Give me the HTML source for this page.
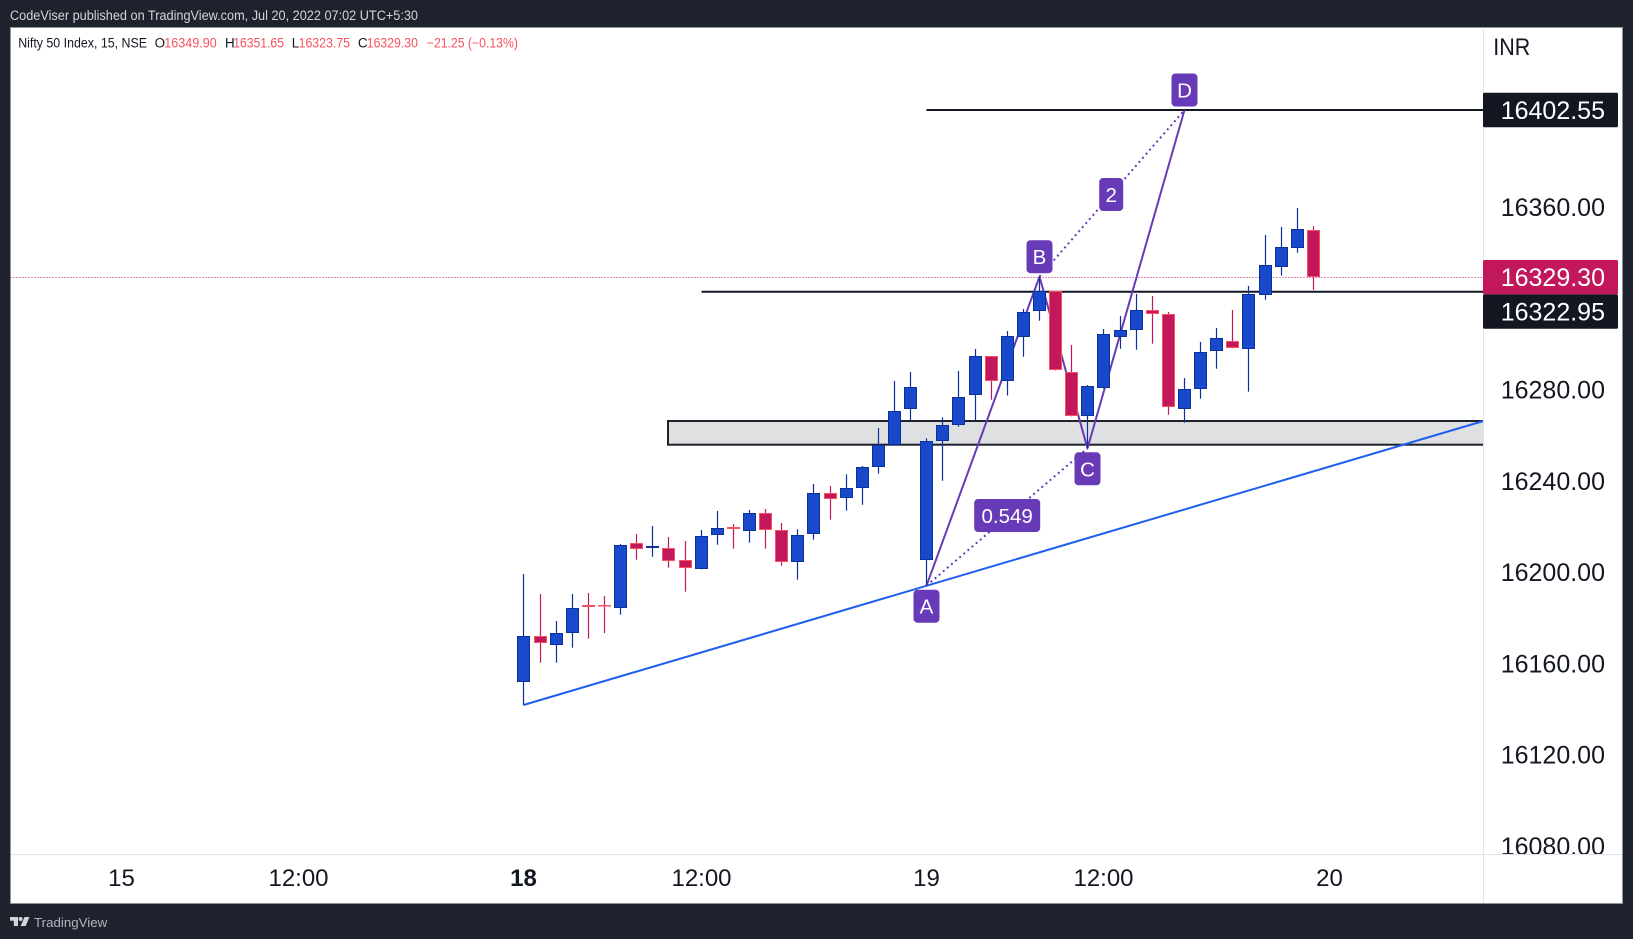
<!DOCTYPE html>
<html lang="en">
<head>
<meta charset="utf-8">
<title>Nifty 50 Index 15m chart</title>
<style>
html,body{margin:0;padding:0;background:#1e222d;width:1633px;height:939px;overflow:hidden}
svg{display:block}
text{font-family:"Liberation Sans",sans-serif}
</style>
</head>
<body>
<svg id="chart" xmlns="http://www.w3.org/2000/svg" width="1633" height="939" viewBox="0 0 1633 939">
  <rect x="0" y="0" width="1633" height="939" fill="#1e222d"/>
  <rect x="10.5" y="27.5" width="1612" height="876" fill="#ffffff" stroke="#8f9299" stroke-width="1"/>
  <text x="10" y="20" font-size="13.4" fill="#d1d4dc" textLength="408" lengthAdjust="spacingAndGlyphs">CodeViser published on TradingView.com, Jul 20, 2022 07:02 UTC+5:30</text>
  <g id="plot"></g>
  <g font-size="13.4">
    <text x="18.2" y="47.5" fill="#131722" textLength="128.8" lengthAdjust="spacingAndGlyphs">Nifty 50 Index, 15, NSE</text>
    <text x="154.6" y="47.5" fill="#131722">O</text>
    <text x="164.3" y="47.5" fill="#f7525f" textLength="52.5" lengthAdjust="spacingAndGlyphs">16349.90</text>
    <text x="225" y="47.5" fill="#131722">H</text>
    <text x="233.2" y="47.5" fill="#f7525f" textLength="50.8" lengthAdjust="spacingAndGlyphs">16351.65</text>
    <text x="291.8" y="47.5" fill="#131722">L</text>
    <text x="298.6" y="47.5" fill="#f7525f" textLength="51.4" lengthAdjust="spacingAndGlyphs">16323.75</text>
    <text x="357.9" y="47.5" fill="#131722">C</text>
    <text x="366.8" y="47.5" fill="#f7525f" textLength="51.1" lengthAdjust="spacingAndGlyphs">16329.30</text>
    <text x="426.8" y="47.5" fill="#f7525f" textLength="91.1" lengthAdjust="spacingAndGlyphs">−21.25 (−0.13%)</text>
  </g>
  <g>
    <polygon points="10,917 18,917 18,926 13.8,926 13.8,920.8 10,920.8" fill="#d1d4dc"/>
    <circle cx="20.6" cy="919" r="2" fill="#d1d4dc"/>
    <polygon points="24.5,917 29.5,917 25.6,926 20.6,926" fill="#d1d4dc"/>
    <text x="34" y="927" font-size="13" fill="#b2b5be" textLength="73.3" lengthAdjust="spacingAndGlyphs">TradingView</text>
  </g>
</svg>
<script>
const barIndex = [0,1,2,3,4,5,6,7,8,9,10,11,12,13,14,15,16,17,18,19,20,21,22,23,24,25,26,27,28,29,30,31,32,33,34,35,36,37,38,39,40,41,42,43,44,45,46,47,48,49];
const opens = [16151.83,16171.98,16168.03,16173.29,16185.69,16185.69,16184.24,16212.72,16210.53,16210.79,16205.27,16201.33,16216.23,16219.73,16217.98,16226.13,16218.68,16204.40,16216.66,16234.63,16232.44,16236.82,16246.02,16255.66,16271.43,16205.27,16257.41,16264.42,16277.56,16294.65,16283.61,16303.32,16314.71,16323.12,16287.64,16268.36,16280.63,16303.23,16306.04,16314.80,16313.05,16271.43,16280.19,16296.84,16301.22,16297.71,16321.37,16333.64,16341.96,16349.90];
const highs = [16199.27,16190.51,16178.68,16190.51,16190.95,16189.63,16212.41,16216.80,16220.30,16215.48,16213.73,16218.55,16226.87,16221.18,16227.31,16227.75,16221.61,16218.85,16238.70,16237.82,16242.95,16246.59,16263.23,16283.82,16287.77,16258.72,16267.92,16288.21,16297.84,16294.78,16305.73,16315.37,16329.52,16323.20,16299.60,16282.07,16306.61,16312.30,16321.94,16321.06,16314.05,16285.14,16300.91,16307.04,16314.93,16325.44,16347.79,16351.29,16359.62,16351.65];
const lows = [16141.88,16160.41,16160.41,16166.98,16170.93,16173.42,16181.44,16205.54,16206.85,16202.03,16191.52,16201.33,16212.11,16210.36,16212.98,16210.36,16202.91,16196.77,16214.30,16223.06,16227.00,16229.63,16243.21,16255.66,16266.61,16194.15,16240.15,16263.80,16266.74,16275.63,16277.47,16294.47,16310.24,16288.51,16268.36,16254.34,16280.63,16297.97,16297.54,16300.17,16269.06,16265.56,16276.07,16289.21,16298.15,16279.14,16319.44,16329.96,16340.03,16323.75];
const closes = [16171.98,16168.91,16173.29,16184.24,16184.95,16185.38,16211.84,16210.09,16211.41,16204.84,16201.77,16215.79,16219.29,16219.12,16225.86,16218.42,16204.40,16216.23,16234.63,16232.00,16236.82,16246.02,16255.66,16270.55,16281.06,16257.41,16264.42,16276.68,16294.65,16283.69,16303.41,16313.92,16323.17,16288.51,16268.36,16281.50,16304.28,16306.04,16314.80,16313.05,16272.30,16280.19,16296.40,16302.53,16298.15,16321.81,16334.51,16342.40,16350.28,16329.30];

const priceTicks = [16360,16280,16240,16200,16160,16120,16080];
const priceTagValues = [16402.55,16329.30,16322.95];
const timeTickBars = [-25,-14,0,11,25,36,50];
const timeTickLabels = ["15","12:00","18","12:00","19","12:00","20"];

const lastPrice = [16329.30];
const horizontalLevels = [16402.55,16322.95];
const horizontalLevelStartBars = [25,11];
const zonePrices = [16266.30,16255.92];
const zoneStartBar = [9];
const trendBars = [0,59.53];
const trendPrices = [16141.88,16266.30];
const patternBars = [25,32,35,41];
const patternPrices = [16194.15,16329.52,16254.34,16402.55];
const patternNames = ["A","B","C","D"];
const ratioValues = ["0.549","2"];

const BAR_BASE_X = 523, BAR_STEP = 145 / 9;
const PRICE_REF = 16402.55, PRICE_REF_Y = 110, PX_PER_POINT = 2.2826;
const PLOT_LEFT = 10.5, PLOT_RIGHT = 1483.5, AXIS_Y = 854.5;

function xAt(bar){ return Math.ceil(BAR_BASE_X + bar * BAR_STEP - 1e-6) + 0.5; }
function yAt(price){ return PRICE_REF_Y + (PRICE_REF - price) * PX_PER_POINT; }

const NS = "http://www.w3.org/2000/svg";
const plot = document.getElementById("plot");
function make(tag, attrs, parent){
  const el = document.createElementNS(NS, tag);
  for (const k in attrs) el.setAttribute(k, attrs[k]);
  (parent || plot).appendChild(el);
  return el;
}

/* support zone */
const zoneLeft = xAt(zoneStartBar[0]) - 0.5;
const zoneRect = make("rect", {x: zoneLeft, y: yAt(zonePrices[0]), width: PLOT_RIGHT - zoneLeft + 4, height: yAt(zonePrices[1]) - yAt(zonePrices[0]), fill: "#dfe0e2", stroke: "#1e222d", "stroke-width": 2});



/* trendline */
const trendLine = make("line", {x1: xAt(trendBars[0]), y1: yAt(trendPrices[0]), x2: xAt(trendBars[1]), y2: yAt(trendPrices[1]), stroke: "#1e5ef0", "stroke-width": 2});



/* horizontal levels */
horizontalLevels.forEach(function(level, i){
  const hl = make("line", {x1: xAt(horizontalLevelStartBars[i]), y1: yAt(level), x2: PLOT_RIGHT, y2: yAt(level), stroke: "#131722", "stroke-width": 2});
  
  
});

/* last price line */
const lastY = Math.floor(yAt(lastPrice[0])) + 0.5;
const lastLine = make("line", {x1: PLOT_LEFT, y1: lastY, x2: PLOT_RIGHT - 2, y2: lastY, stroke: "#c2185b", "stroke-width": 1, "stroke-dasharray": "1 2"});



/* ABCD pattern legs */
for (let i = 0; i < patternBars.length - 1; i++) {
  const leg = make("line", {x1: xAt(patternBars[i]), y1: yAt(patternPrices[i]), x2: xAt(patternBars[i+1]), y2: yAt(patternPrices[i+1]), stroke: "#673ab7", "stroke-width": 2});
  
  
}
for (let i = 0; i < 2; i++) {
  const dot = make("line", {x1: xAt(patternBars[i]), y1: yAt(patternPrices[i]), x2: xAt(patternBars[i+2]), y2: yAt(patternPrices[i+2]), stroke: "#673ab7", "stroke-width": 2, "stroke-dasharray": "2 3.4"});
  
  
}

/* candles */
barIndex.forEach(function(bar, i){
  const up = closes[i] >= opens[i];
  const wickColor = up ? "#0c3299" : "#c2185b";
  const bodyFill = up ? "#1848cc" : "#c2185b";
  const bodyStroke = up ? "#0c3299" : "#f7525f";
  const cx = xAt(bar);
  const topY = Math.round(yAt(Math.max(opens[i], closes[i])));
  const botY = Math.round(yAt(Math.min(opens[i], closes[i])));
  const g = make("g", {});
  
  
  const wick = make("rect", {x: cx - 0.6, y: yAt(highs[i]), width: 1.2, height: Math.max(0, yAt(lows[i]) - yAt(highs[i])), fill: wickColor}, g);
  
  
  const body = make("rect", {x: cx - 6, y: topY + 0.5, width: 12, height: Math.max(0.5, botY - topY - 1), fill: bodyFill, stroke: bodyStroke, "stroke-width": 1}, g);
  
  
});

/* pattern labels */
function badge(label, cx, top, w){
  const g = make("g", {});
  
  
  const r = make("rect", {x: cx - w / 2, y: top, width: w, height: 33, rx: 4, fill: "#673ab7"}, g);
  
  
  const t = make("text", {x: cx, y: top + 24, "font-size": 20.5, fill: "#ffffff", "text-anchor": "middle"}, g);
  t.textContent = label;
  
  
}
const belowPoint = [true, false, true, false];
patternNames.forEach(function(name, i){
  const px = xAt(patternBars[i]);
  const py = yAt(patternPrices[i]);
  badge(name, px, belowPoint[i] ? py + 4 : py - 36.5, 26);
});
badge(ratioValues[0], (xAt(patternBars[0]) + xAt(patternBars[2])) / 2 + 0.2, (yAt(patternPrices[0]) + yAt(patternPrices[2])) / 2 - 18, 66);
badge(ratioValues[1], (xAt(patternBars[1]) + xAt(patternBars[3])) / 2 - 0.8, (yAt(patternPrices[1]) + yAt(patternPrices[3])) / 2 - 15.3, 24);

/* price axis pane */
const pricePane = make("rect", {x: PLOT_RIGHT, y: 28, width: 1622 - PLOT_RIGHT, height: 875, fill: "#ffffff"});


const priceLine = make("line", {x1: PLOT_RIGHT, y1: 27.5, x2: PLOT_RIGHT, y2: 903, stroke: "#e0e3eb", "stroke-width": 1});



priceTicks.forEach(function(v){
  const t = make("text", {x: 1605, y: yAt(v) + 8.8, "font-size": 25, fill: "#131722", "text-anchor": "end"});
  t.textContent = v.toFixed(2);
  
  
});

const currencyLabel = make("text", {x: 1493.3, y: 55, "font-size": 24.5, fill: "#131722", textLength: 37, lengthAdjust: "spacingAndGlyphs"});
currencyLabel.textContent = "INR";



/* time axis pane (clips the lowest price label) */
const timePane = make("rect", {x: 11, y: AXIS_Y, width: 1611, height: 48.5, fill: "#ffffff"});


const timeLine = make("line", {x1: 11, y1: AXIS_Y, x2: 1622, y2: AXIS_Y, stroke: "#e0e3eb", "stroke-width": 1});


const priceLineLow = make("line", {x1: PLOT_RIGHT, y1: AXIS_Y, x2: PLOT_RIGHT, y2: 903, stroke: "#e0e3eb", "stroke-width": 1});



timeTickBars.forEach(function(bar, i){
  const t = make("text", {x: xAt(bar), y: 886, "font-size": 24, fill: "#131722", "text-anchor": "middle"});
  if (timeTickLabels[i] === "18") t.setAttribute("font-weight", "bold");
  t.textContent = timeTickLabels[i];
  
  
});

/* price tags */
const tagFills = ["#131722", "#c2185b", "#131722"];
let prevBottom = 0;
priceTagValues.forEach(function(v, i){
  let top = yAt(v) - 17.2;
  if (top < prevBottom) top = prevBottom;
  const tagBox = make("rect", {x: 1483, y: top, width: 135, height: 34.4, rx: 1.5, fill: tagFills[i]});
  
  
  const tagText = make("text", {x: 1605, y: top + 26, "font-size": 25, fill: "#ffffff", "text-anchor": "end"});
  tagText.textContent = v.toFixed(2);
  
  
  prevBottom = top + 34.4;
});
</script>
</body>
</html>
